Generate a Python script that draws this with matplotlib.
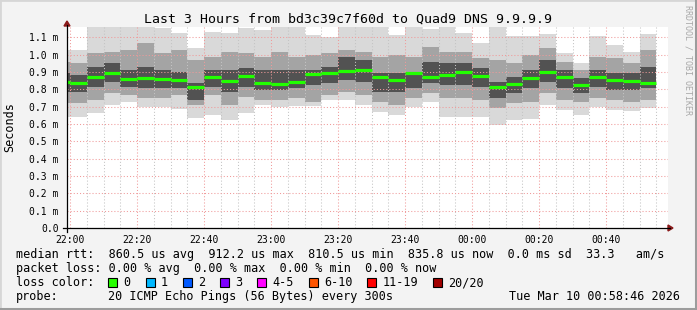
import numpy as np
import matplotlib.pyplot as plt
from matplotlib.lines import Line2D
from matplotlib.patches import Rectangle, Polygon

# 5 minute steps, start of each step in minutes after 22:00 (first one is 21:55-22:00)
step_start = np.arange(-5, 175, 5)

# median rtt per step (ms)
median = [0.844, 0.835, 0.869, 0.896, 0.860, 0.865, 0.858, 0.854, 0.811, 0.869,
          0.848, 0.877, 0.838, 0.833, 0.844, 0.887, 0.896, 0.908, 0.912, 0.873,
          0.852, 0.894, 0.871, 0.883, 0.900, 0.877, 0.815, 0.831, 0.865, 0.898,
          0.871, 0.823, 0.871, 0.852, 0.846, 0.836]

# smoke: outer (max/min), middle and core band edges (ms)
smoke_max = [1.027, 1.027, 1.16, 1.16, 1.16, 1.16, 1.152, 1.123, 1.037, 1.133,
             1.123, 1.152, 1.142, 1.16, 1.16, 1.113, 1.104, 1.16, 1.16, 1.16,
             1.113, 1.16, 1.146, 1.16, 1.123, 1.069, 1.16, 1.108, 1.108, 1.119,
             1.008, 0.954, 1.108, 1.056, 1.013, 1.119]
mid_hi = [0.960, 0.950, 1.008, 1.017, 1.027, 1.065, 1.008, 1.027, 0.969, 0.988,
          1.017, 1.008, 0.988, 1.017, 0.988, 0.998, 1.008, 1.027, 1.017, 0.988,
          0.998, 0.988, 1.046, 1.017, 1.017, 0.979, 0.969, 0.950, 0.998, 1.037,
          0.960, 0.912, 0.988, 0.979, 0.950, 1.027]
core_hi = [0.892, 0.883, 0.931, 0.950, 0.912, 0.931, 0.912, 0.902, 0.835, 0.912,
           0.912, 0.921, 0.912, 0.912, 0.912, 0.912, 0.931, 0.988, 0.969, 0.892,
           0.892, 0.902, 0.960, 0.950, 0.950, 0.921, 0.844, 0.873, 0.912, 0.969,
           0.912, 0.863, 0.912, 0.892, 0.892, 0.931]
core_lo = [0.787, 0.787, 0.815, 0.844, 0.815, 0.806, 0.806, 0.806, 0.738, 0.815,
           0.787, 0.815, 0.796, 0.796, 0.806, 0.825, 0.835, 0.854, 0.844, 0.787,
           0.787, 0.806, 0.835, 0.825, 0.825, 0.815, 0.748, 0.777, 0.806, 0.844,
           0.806, 0.777, 0.815, 0.796, 0.796, 0.806]
mid_lo = [0.719, 0.719, 0.738, 0.777, 0.767, 0.748, 0.748, 0.767, 0.710, 0.767,
          0.710, 0.758, 0.738, 0.738, 0.748, 0.729, 0.767, 0.787, 0.767, 0.729,
          0.710, 0.748, 0.777, 0.748, 0.748, 0.738, 0.690, 0.719, 0.729, 0.777,
          0.738, 0.729, 0.748, 0.738, 0.729, 0.738]
smoke_min = [0.642, 0.642, 0.665, 0.710, 0.727, 0.696, 0.696, 0.685, 0.633, 0.652,
             0.623, 0.662, 0.710, 0.700, 0.704, 0.704, 0.738, 0.738, 0.710, 0.671,
             0.652, 0.700, 0.729, 0.642, 0.638, 0.642, 0.594, 0.623, 0.627, 0.710,
             0.681, 0.652, 0.696, 0.681, 0.677, 0.690]

time_ticks = np.arange(0, 180, 20)
time_labels = ['22:00', '22:20', '22:40', '23:00', '23:20', '23:40', '00:00', '00:20', '00:40']
y_ticks = np.arange(0, 12) / 10

title = 'Last 3 Hours from bd3c39c7f60d to Quad9 DNS 9.9.9.9'
rtt_line = 'median rtt:  860.5 us avg  912.2 us max  810.5 us min  835.8 us now  0.0 ms sd  33.3   am/s'
loss_line = 'packet loss: 0.00 % avg  0.00 % max  0.00 % min  0.00 % now'
loss_labels = ['0', '1', '2', '3', '4-5', '6-10', '11-19', '20/20']
loss_colors = ['#26ff00', '#00b8ff', '#0059ff', '#7e00ff', '#ff00ff', '#ff5500', '#ff0000', '#a10000']
probe_text = '20 ICMP Echo Pings (56 Bytes) every 300s'
date_text = 'Tue Mar 10 00:58:46 2026'

W, H = 697, 310
mono = 'DejaVu Sans Mono'


def px(x, y):
    return x / W, 1 - y / H


fig = plt.figure(figsize=(W / 100, H / 100), dpi=100, facecolor='#f3f3f3')
ax = fig.add_axes([67 / W, (H - 228) / H, (668 - 67) / W, (228 - 27) / H])
ax.set_facecolor('white')
ax.set_xlim(-0.9, 178.5)
ax.set_ylim(0, 1.16)

# smoke bands
sm = np.array
ax.bar(step_start, sm(smoke_max) - sm(smoke_min), bottom=smoke_min, width=5, align='edge',
       color='#d9d9d9', linewidth=0, zorder=1)
ax.bar(step_start, sm(mid_hi) - sm(mid_lo), bottom=mid_lo, width=5, align='edge',
       color='#a4a4a4', linewidth=0, zorder=1)
ax.bar(step_start, sm(core_hi) - sm(core_lo), bottom=core_lo, width=5, align='edge',
       color='#525252', linewidth=0, zorder=1)

# median
ax.hlines(median, step_start, step_start + 5, colors='#22ff00', linewidth=2.3, zorder=4)

# grid
ax.set_xticks(time_ticks)
ax.set_xticklabels(time_labels)
ax.set_xticks(np.arange(0, 180, 5), minor=True)
ax.set_yticks(y_ticks)
ax.set_yticklabels(['0.0'] + [f'{v:.1f} m' for v in y_ticks[1:]])
ax.set_axisbelow(False)
ax.grid(which='minor', axis='x', color='#c4c4c4', linestyle=(0, (1, 2)), linewidth=0.75, zorder=2)
ax.grid(which='major', color='#f09a9a', linestyle=(0, (1, 2)), linewidth=0.75, zorder=3)
ax.tick_params(which='both', length=0, labelsize=7, colors='black')
ax.tick_params(axis='x', pad=5)
ax.tick_params(axis='y', pad=6)
for lab in ax.get_xticklabels() + ax.get_yticklabels():
    lab.set_fontfamily(mono)
for s in ax.spines.values():
    s.set_visible(False)

# axes lines with arrows
fig.add_artist(Line2D(*zip(px(63, 228), px(670, 228)), color='black', lw=0.9))
fig.add_artist(Line2D(*zip(px(67, 232), px(67, 25)), color='black', lw=0.9))
fig.add_artist(Polygon([px(668, 225), px(668, 231), px(673, 228)], closed=True, color='#8b1a1a'))
fig.add_artist(Polygon([px(64, 26), px(70, 26), px(67, 21)], closed=True, color='#8b1a1a'))

# frame
fig.add_artist(Rectangle((0, 0), 1, 1, transform=fig.transFigure, fill=False,
                         edgecolor='#d6d6d6', linewidth=2))
fig.add_artist(Line2D([1 - 1.5 / W, 1 - 1.5 / W], [0, 1], color='#9c9c9c', lw=2.2))
fig.add_artist(Line2D([0, 1], [1.5 / H, 1.5 / H], color='#9c9c9c', lw=2.2))

# texts
fig.text(*px(348.5, 19), title, ha='center', va='center', fontsize=9.5, family=mono)
fig.text(*px(10, 127), 'Seconds', rotation=90, ha='center', va='center', fontsize=8.5, family=mono)
fig.text(*px(688, 60), 'RRDTOOL / TOBI OETIKER', rotation=270, ha='center', va='center',
         fontsize=6, family=mono, color='#a8a8a8')

cw = 7.1
fig.text(*px(16, 258), rtt_line, fontsize=8.5, family=mono, va='baseline')
fig.text(*px(16, 272), loss_line, fontsize=8.5, family=mono, va='baseline')
fig.text(*px(16, 286), 'loss color:', fontsize=8.5, family=mono, va='baseline')
fig.text(*px(16, 300), 'probe:', fontsize=8.5, family=mono, va='baseline')
fig.text(*px(16 + 13 * cw, 300), probe_text, fontsize=8.5, family=mono, va='baseline')
fig.text(*px(680, 300), date_text, fontsize=8.5, family=mono, va='baseline', ha='right')

bx = 16 + 13 * cw
for lab, col in zip(loss_labels, loss_colors):
    fig.add_artist(Rectangle(px(bx, 287), 9 / W, 9 / H, transform=fig.transFigure,
                             facecolor=col, edgecolor='black', linewidth=0.8))
    fig.text(*px(bx + 2.1 * cw, 286), lab, fontsize=8.5, family=mono, va='baseline')
    bx += (2 + len(lab) + 2.25) * cw

fig.savefig('out.png', dpi=100, facecolor=fig.get_facecolor())
